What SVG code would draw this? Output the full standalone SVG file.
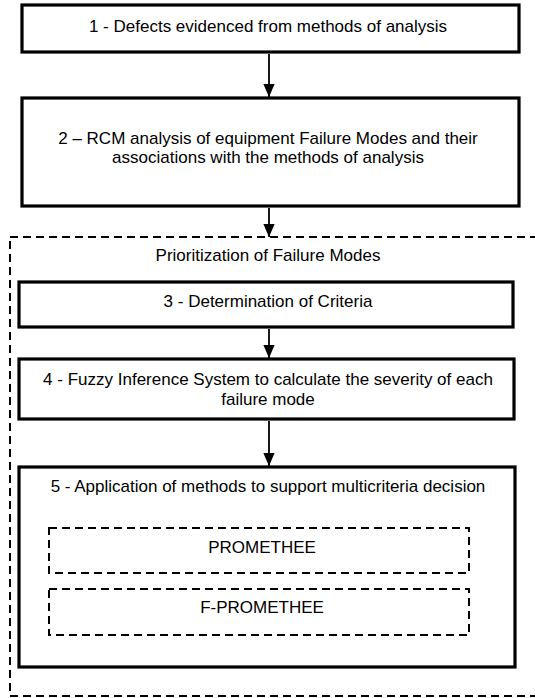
<svg xmlns="http://www.w3.org/2000/svg" width="535" height="698" viewBox="0 0 535 698">
<defs>
<marker id="ah" markerWidth="13" markerHeight="15" refX="15" refY="6.5" orient="auto" markerUnits="userSpaceOnUse" viewBox="0 0 15 13">
<path d="M0,0 L15,6.5 L0,13 Z" fill="#000"/>
</marker>
<style>
.box{fill:#fff;stroke:#000;stroke-width:3.2}
.dbox{fill:none;stroke:#000;stroke-width:2;stroke-dasharray:8 5}
.t{font-family:"Liberation Sans",Arial,sans-serif;font-size:17px;fill:#000;text-anchor:middle}
.c{stroke:#000;stroke-width:1.8;fill:none;marker-end:url(#ah)}
</style>
</defs>
<rect width="535" height="698" fill="#fff"/>
<g id="group-prioritization">
<rect class="dbox" x="10" y="237" width="535" height="459"/>
<text class="t" x="268" y="261">Prioritization of Failure Modes</text>
</g>
<g id="n1">
<rect class="box" x="22" y="5" width="497" height="47"/>
<text class="t" x="268" y="32">1 - Defects evidenced from methods of analysis</text>
</g>
<g id="n2">
<rect class="box" x="22" y="98" width="497" height="108"/>
<text class="t" x="268" y="144">2 – RCM analysis of equipment Failure Modes and their</text>
<text class="t" x="268" y="163">associations with the methods of analysis</text>
</g>
<g id="n3">
<rect class="box" x="19" y="282" width="494" height="45"/>
<text class="t" x="268" y="307">3 - Determination of Criteria</text>
</g>
<g id="n4">
<rect class="box" x="19" y="359" width="495" height="60"/>
<text class="t" x="268" y="385">4 - Fuzzy Inference System to calculate the severity of each</text>
<text class="t" x="268" y="405">failure mode</text>
</g>
<g id="n5">
<rect class="box" x="19" y="467" width="496" height="200"/>
<text class="t" x="268" y="492">5 - Application of methods to support multicriteria decision</text>
</g>
<g id="n5a">
<rect class="dbox" x="49" y="528" width="420" height="45"/>
<text class="t" x="262" y="553">PROMETHEE</text>
</g>
<g id="n5b">
<rect class="dbox" x="49" y="589" width="420" height="46"/>
<text class="t" x="262" y="613">F-PROMETHEE</text>
</g>
<g id="connectors">
<line class="c" x1="269" y1="54" x2="269" y2="97"/>
<line class="c" x1="269" y1="208" x2="269" y2="237"/>
<line class="c" x1="269" y1="329" x2="269" y2="358"/>
<line class="c" x1="269" y1="421" x2="269" y2="466"/>
</g>
</svg>
